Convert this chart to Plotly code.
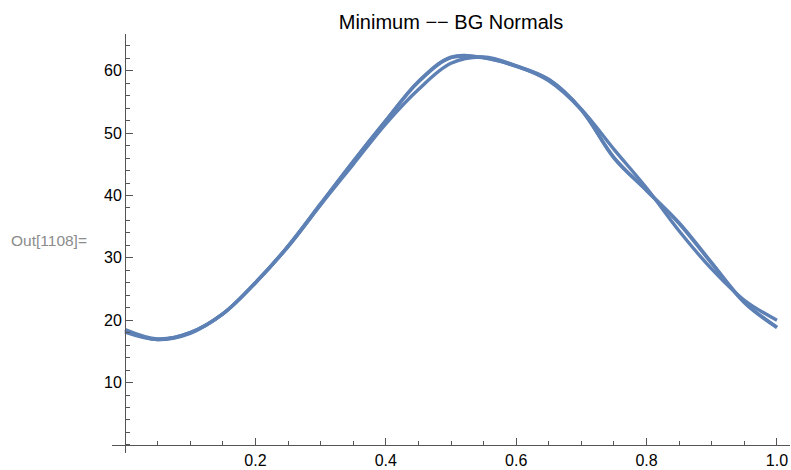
import plotly.graph_objects as go

# x grid (fraction of cycle)
x_vals = [0.00, 0.05, 0.10, 0.15, 0.20, 0.25, 0.30, 0.35, 0.40, 0.45, 0.50,
          0.55, 0.60, 0.65, 0.70, 0.75, 0.80, 0.85, 0.90, 0.95, 1.00]

# two nearly identical data curves
series_a = [18.5, 17.0, 18.0, 21.0, 26.0, 31.8, 38.6, 45.4, 52.0, 58.3, 62.2,
            62.1, 60.7, 58.6, 53.8, 46.0, 40.8, 35.6, 29.2, 22.9, 18.9]
series_b = [18.3, 16.9, 18.0, 21.0, 26.0, 31.9, 38.7, 45.5, 52.0, 58.2, 62.1,
            62.1, 60.8, 58.6, 53.7, 46.1, 40.8, 35.5, 29.1, 22.8, 18.8]
# smoother fitted curve
series_c = [18.1, 16.9, 17.9, 21.0, 26.0, 31.8, 38.5, 45.0, 51.5, 57.0, 61.2,
            62.2, 60.8, 58.4, 53.8, 47.4, 41.2, 34.3, 28.2, 23.2, 20.0]

x_ticks = [0.2, 0.4, 0.6, 0.8, 1.0]
x_tick_labels = ["0.2", "0.4", "0.6", "0.8", "1.0"]
y_ticks = [10, 20, 30, 40, 50, 60]
y_tick_labels = ["10", "20", "30", "40", "50", "60"]

line_color = "#5E81B5"
axis_color = "#555555"
font_family = "Liberation Sans, Arial, sans-serif"

x_range = [-0.02, 1.02]
y_range = [-1.3, 65.9]

fig = go.Figure()
for ys in (series_c, series_b, series_a):
    fig.add_trace(go.Scatter(
        x=x_vals, y=ys, mode="lines",
        line=dict(color=line_color, width=3.4, shape="spline", smoothing=1.0),
        showlegend=False, hoverinfo="skip"))

x_pos = (0 - x_range[0]) / (x_range[1] - x_range[0])
y_pos = (0 - y_range[0]) / (y_range[1] - y_range[0])

fig.update_layout(
    width=791, height=470,
    margin=dict(l=112, r=1, t=34, b=17, autoexpand=False),
    paper_bgcolor="white", plot_bgcolor="white",
    font=dict(family=font_family, color="black", size=16),
    title=dict(text="Minimum \u2212\u2212 BG Normals", x=0.5, xref="paper",
               xanchor="center", y=1 - 22 / 470, yref="container",
               yanchor="middle", font=dict(size=20, family=font_family, color="black")),
    xaxis=dict(range=x_range, anchor="free", position=y_pos, automargin=False,
               showgrid=False, zeroline=False, showline=True,
               linecolor=axis_color, linewidth=1,
               tickmode="array", tickvals=x_ticks, ticktext=x_tick_labels,
               ticks="inside", ticklen=7, tickwidth=1, tickcolor=axis_color,
               ticklabelstandoff=1,
               tickfont=dict(size=16, color="black"),
               minor=dict(tick0=0, dtick=0.05, ticks="inside", ticklen=4,
                          tickwidth=1, tickcolor=axis_color, showgrid=False)),
    yaxis=dict(range=y_range, anchor="free", position=x_pos, automargin=False,
               showgrid=False, zeroline=False, showline=True,
               linecolor=axis_color, linewidth=1,
               tickmode="array", tickvals=y_ticks, ticktext=y_tick_labels,
               ticks="inside", ticklen=7, tickwidth=1, tickcolor=axis_color,
               tickfont=dict(size=16, color="black"),
               minor=dict(tick0=0, dtick=2, ticks="inside", ticklen=4,
                          tickwidth=1, tickcolor=axis_color, showgrid=False)),
)

fig.add_annotation(text="Out[1108]=", xref="paper", yref="paper",
                   x=(9 - 112) / 678, y=(453 - 240.5) / 419,
                   xanchor="left", yanchor="middle", showarrow=False,
                   font=dict(size=15.5, color="#8c8c8c", family=font_family))

fig.write_html("out.html")
